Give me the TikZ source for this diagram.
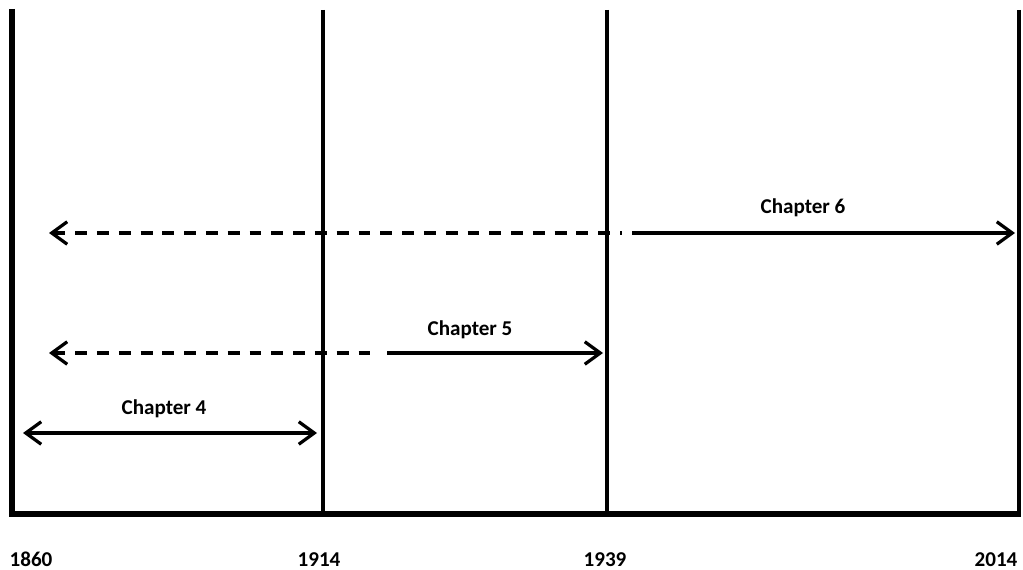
\documentclass[tikz,border=0pt]{standalone}
\usepackage{fontspec}
\setmainfont[Numbers=Lining]{Carlito}
\usetikzlibrary{arrows.meta}

\begin{document}
\begin{tikzpicture}[x=0.025cm,y=-0.025cm,
  >={Straight Barb[length=11pt,width=16pt]},
  frame/.style={black,line width=3.6pt},
  divider/.style={black,line width=2.2pt},
  span/.style={black,line width=2.3pt},
  dashspan/.style={span,dash pattern=on 8.5pt off 7pt},
  lbl/.style={font=\fontsize{15}{18}\selectfont\bfseries,inner sep=0pt,anchor=base}]
\useasboundingbox (0,0) rectangle (1023,570);
% axis and frame
\coordinate (top0) at (12,9);
\coordinate (bot0) at (12,514);
\coordinate (bot3) at (1021,514);
\draw[frame] (top0) -- (bot0) -- (bot3);
\coordinate (top1) at (323,10);
\coordinate (bot1) at (323,514);
\draw[divider] (top1) -- (bot1);
\coordinate (top2) at (607,10);
\coordinate (bot2) at (607,514);
\draw[divider] (top2) -- (bot2);
\coordinate (top3) at (1019,10);
\coordinate (end3) at (1019,514);
\draw[divider] (top3) -- (end3);
% years
\node[lbl] (y1860) at (31,566) {1860};
\node[lbl] (y1914) at (319,566) {1914};
\node[lbl] (y1939) at (605,566) {1939};
\node[lbl] (y2014) at (996,566) {2014};
% chapter 6
\coordinate (c6l) at (49,233);
\coordinate (c6m) at (622,233);
\coordinate (c6s) at (632,233);
\coordinate (c6r) at (1015,233);
\draw[dashspan,<-] (c6l) -- (c6m);
\draw[span,->] (c6s) -- (c6r);
\node[lbl] (ch6) at (803,214) {Chapter 6};
% chapter 5
\coordinate (c5l) at (49,353);
\coordinate (c5m) at (380,353);
\coordinate (c5s) at (387,353);
\coordinate (c5r) at (603,353);
\draw[dashspan,<-] (c5l) -- (c5m);
\draw[span,->] (c5s) -- (c5r);
\node[lbl] (ch5) at (470,335) {Chapter 5};
% chapter 4
\coordinate (c4l) at (23,433);
\coordinate (c4r) at (317,433);
\draw[span,<->] (c4l) -- (c4r);
\node[lbl] (ch4) at (164,414) {Chapter 4};
\end{tikzpicture}
\end{document}
